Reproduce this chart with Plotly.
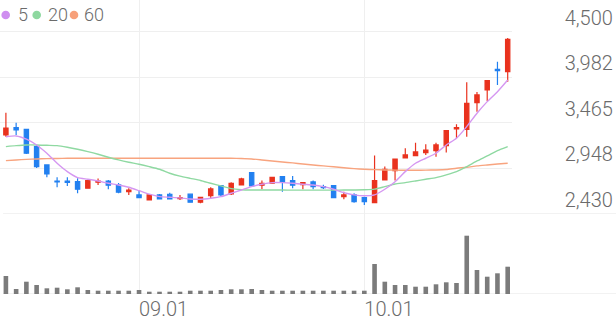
import plotly.graph_objects as go

# ---------------- data ----------------
day_index = list(range(50))
date_tick_index = [13, 35]
date_tick_labels = ["09.01", "10.01"]

opens = [3328, 3410, 3392, 3195, 2987, 2805, 2805, 2797, 2723, 2791,
         2805, 2760, 2684, 2647, 2590, 2647, 2654, 2605, 2655, 2564,
         2639, 2752, 2658, 2760, 2900, 2757, 2779, 2854, 2809, 2763,
         2794, 2741, 2752, 2627, 2647, 2616, 2559, 2817, 2922, 3066,
         3093, 3127, 3149, 3206, 3396, 3392, 3694, 3838, 4073, 4046]
highs = [3581, 3467, 3398, 3214, 2995, 2847, 2847, 2836, 2820, 2832,
         2817, 2782, 2723, 2703, 2647, 2658, 2670, 2647, 2660, 2625,
         2734, 2760, 2791, 2843, 2908, 2809, 2854, 2854, 2862, 2791,
         2809, 2763, 2760, 2684, 2666, 2627, 3093, 2968, 3059, 3177,
         3240, 3222, 3240, 3384, 3449, 3926, 3816, 3952, 4160, 4428]
lows = [3308, 3328, 3111, 2953, 2847, 2734, 2749, 2666, 2723, 2760,
        2711, 2666, 2647, 2616, 2590, 2595, 2595, 2590, 2560, 2552,
        2609, 2635, 2647, 2760, 2741, 2711, 2779, 2684, 2723, 2711,
        2711, 2715, 2609, 2598, 2559, 2533, 2556, 2809, 2809, 3066,
        3093, 3101, 3081, 3127, 3290, 3308, 3592, 3713, 3895, 3933]
closes = [3404, 3384, 3120, 2968, 2885, 2794, 2790, 2711, 2809, 2805,
          2757, 2677, 2700, 2616, 2647, 2601, 2601, 2616, 2564, 2620,
          2715, 2647, 2779, 2828, 2749, 2779, 2847, 2791, 2757, 2786,
          2741, 2729, 2616, 2647, 2571, 2571, 2809, 2938, 3052, 3101,
          3135, 3157, 3214, 3376, 3410, 3687, 3782, 3944, 4057, 4414]

ma5 = [3308, 3316, 3279, 3214, 3120, 3006, 2911, 2843, 2825, 2805,
       2779, 2760, 2734, 2695, 2655, 2627, 2620, 2613, 2601, 2598,
       2609, 2627, 2666, 2703, 2741, 2768, 2786, 2786, 2779, 2768,
       2760, 2741, 2711, 2673, 2647, 2637, 2647, 2711, 2797, 2911,
       3006, 3063, 3120, 3214, 3290, 3422, 3574, 3706, 3819, 3952]
ma20 = [3195, 3206, 3214, 3214, 3210, 3206, 3188, 3165, 3138, 3108,
        3074, 3044, 3018, 2995, 2968, 2938, 2893, 2860, 2835, 2811,
        2779, 2749, 2718, 2706, 2703, 2703, 2702, 2702, 2701, 2701,
        2701, 2701, 2701, 2702, 2703, 2705, 2712, 2741, 2771, 2786,
        2805, 2825, 2843, 2874, 2911, 2968, 3032, 3089, 3149, 3195]
ma60 = [3036, 3044, 3050, 3055, 3059, 3061, 3063, 3063, 3063, 3063,
        3063, 3063, 3063, 3063, 3063, 3063, 3063, 3063, 3063, 3063,
        3063, 3063, 3063, 3060, 3055, 3044, 3032, 3021, 3010, 2998,
        2987, 2976, 2966, 2955, 2945, 2938, 2934, 2930, 2928, 2927,
        2927, 2928, 2930, 2935, 2950, 2961, 2976, 2987, 2998, 3006]

volume_k = [180, 50, 123, 90, 57, 63, 47, 67, 40, 33,
            33, 33, 33, 40, 23, 23, 23, 23, 33, 33,
            33, 40, 47, 47, 50, 40, 33, 33, 33, 33,
            33, 33, 33, 33, 33, 33, 300, 123, 90, 90,
            73, 73, 97, 117, 110, 583, 240, 173, 207, 273]

price_tick_vals = [2430, 2947.5, 3465, 3982.5, 4500]
price_tick_text = ["2,430", "2,948", "3,465", "3,982", "4,500"]

legend_labels = ["5", "20", "60"]

# ---------------- styles ----------------
RED = "#e9321e"
BLUE = "#2280f0"
MA_COLORS = ["#d597f1", "#8fd9a2", "#f8a47f"]
LEGEND_COLORS = ["#cf8ef0", "#8ed8a0", "#f7a07a"]
GRID = "#efefef"
AXLINE = "#e6e6e6"
TEXT = "#6b6b6b"
FONT = "Roboto"

W, H = 616, 321
PLOT_RIGHT = 512 / W
SPLIT = (294 - 214) / 294

fig = go.Figure()

fig.add_trace(go.Candlestick(
    x=day_index, open=opens, high=highs, low=lows, close=closes,
    increasing=dict(line=dict(color=RED, width=1.2), fillcolor=RED),
    decreasing=dict(line=dict(color=BLUE, width=1.2), fillcolor=BLUE),
    whiskerwidth=0, hoverinfo="skip", xaxis="x", yaxis="y",
))

for series, col in zip([ma60, ma20, ma5], MA_COLORS[::-1]):
    fig.add_trace(go.Scatter(
        x=day_index, y=series, mode="lines",
        line=dict(color=col, width=1.4, shape="spline", smoothing=0.6),
        hoverinfo="skip", xaxis="x", yaxis="y",
    ))

fig.add_trace(go.Bar(
    x=day_index, y=volume_k, marker=dict(color="#7b7b7b", line=dict(width=0)),
    width=0.45, hoverinfo="skip", xaxis="x2", yaxis="y2",
))

xcommon = dict(
    domain=[0, PLOT_RIGHT], range=[-0.576, 49.42],
    tickmode="array", tickvals=date_tick_index,
    showgrid=True, gridcolor=GRID, gridwidth=1,
    zeroline=False, showline=False, ticks="", fixedrange=True,
    automargin=False,
)

fig.update_layout(
    width=W, height=H,
    margin=dict(l=0, r=0, t=0, b=27, autoexpand=False),
    paper_bgcolor="white", plot_bgcolor="white",
    showlegend=False, boxgap=0.4,
    font=dict(family=FONT, color=TEXT),
    xaxis=dict(**xcommon, anchor="y", showticklabels=False,
               rangeslider=dict(visible=False)),
    xaxis2=dict(**xcommon, anchor="y2", matches="x",
                ticktext=date_tick_labels, showticklabels=True,
                ticklabelposition="outside right", ticklabelstandoff=1,
                tickfont=dict(size=20, color=TEXT, family=FONT, weight=300)),
    yaxis=dict(domain=[SPLIT, 1], range=[2430, 4860],
               tickmode="array", tickvals=price_tick_vals, ticktext=price_tick_text,
               side="left", anchor="free", position=0.995,
               ticklabelshift=-14, ticks="", automargin=False,
               showgrid=True, gridcolor=GRID, gridwidth=1,
               zeroline=False, showline=False, fixedrange=True,
               tickfont=dict(size=20, color=TEXT, family=FONT, weight=300)),
    yaxis2=dict(domain=[0, SPLIT], range=[0, 800], showticklabels=False,
                automargin=False,
                showgrid=False, zeroline=False, showline=False, fixedrange=True),
)

# panel base lines
fig.add_shape(type="line", xref="paper", yref="y", x0=0.005, x1=1, y0=2430, y1=2430,
              line=dict(color=AXLINE, width=1.2), layer="below")
fig.add_shape(type="line", xref="paper", yref="y2", x0=0.005, x1=1, y0=0, y1=0,
              line=dict(color=AXLINE, width=1.2), layer="below")

# legend: coloured dots + labels
dot_x = [5.7, 36.7, 74.0]
text_x = [16, 46, 82]
for lab, col, dx, tx in zip(legend_labels, LEGEND_COLORS, dot_x, text_x):
    fig.add_shape(type="circle", xref="paper", yref="paper",
                  xsizemode="pixel", ysizemode="pixel",
                  xanchor=0, yanchor=1,
                  x0=dx - 4.3, x1=dx + 4.3, y0=-15 - 4.3, y1=-15 + 4.3,
                  fillcolor=col, line=dict(width=0))
    fig.add_annotation(text=lab, xref="paper", yref="paper", x=0, y=1,
                       xanchor="left", yanchor="middle", xshift=tx, yshift=-14.5,
                       showarrow=False,
                       font=dict(size=18, color=TEXT, family=FONT, weight=300))

fig.write_html("out.html")
